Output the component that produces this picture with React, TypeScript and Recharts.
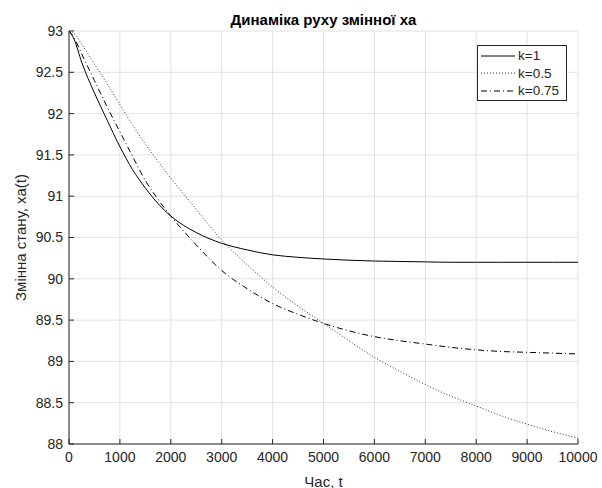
import { LineChart, Line, XAxis, YAxis, CartesianGrid } from 'recharts';

// time grid and state variable xa(t) for each k
const time = [0, 100, 250, 500, 750, 1000, 1250, 1500, 1750, 2000, 2500, 3000, 3500, 4000, 4500, 5000, 5500, 6000, 6500, 7000, 7500, 8000, 8500, 9000, 9500, 10000];
const xaK1 = [93, 92.9, 92.62, 92.25, 91.92, 91.6, 91.32, 91.1, 90.91, 90.76, 90.56, 90.43, 90.35, 90.29, 90.26, 90.24, 90.225, 90.215, 90.21, 90.205, 90.2, 90.2, 90.2, 90.2, 90.2, 90.2];
const xaK05 = [93, 92.97, 92.84, 92.6, 92.36, 92.11, 91.86, 91.63, 91.42, 91.22, 90.84, 90.47, 90.17, 89.9, 89.67, 89.46, 89.25, 89.05, 88.88, 88.72, 88.58, 88.46, 88.34, 88.24, 88.15, 88.07];
const xaK075 = [93, 92.92, 92.72, 92.4, 92.08, 91.78, 91.48, 91.19, 90.96, 90.76, 90.41, 90.1, 89.88, 89.7, 89.57, 89.46, 89.37, 89.3, 89.25, 89.21, 89.17, 89.14, 89.12, 89.11, 89.1, 89.09];

const xTicks = [0, 1000, 2000, 3000, 4000, 5000, 6000, 7000, 8000, 9000, 10000];
const yTicks = [88, 88.5, 89, 89.5, 90, 90.5, 91, 91.5, 92, 92.5, 93];

const series = [
  { key: 'k1', name: 'k=1', dash: undefined as string | undefined, color: '#000' },
  { key: 'k05', name: 'k=0.5', dash: '1 2', color: '#333' },
  { key: 'k075', name: 'k=0.75', dash: '6 3 1 3', color: '#000' },
];

const data = time.map((t, i) => ({ t, k1: xaK1[i], k05: xaK05[i], k075: xaK075[i] }));

const FONT = '"Liberation Sans", Arial, sans-serif';
const AXIS = '#262626';
const tickStyle = { fontSize: 14, fill: AXIS, fontFamily: FONT };

function YLabel(props: any) {
  const vb = props.viewBox;
  const cx = vb.x + 20;
  const cy = vb.y + vb.height / 2;
  return (
    <text
      x={cx}
      y={cy}
      transform={`rotate(-90 ${cx} ${cy})`}
      textAnchor="middle"
      dominantBaseline="central"
      fontSize={15}
      fontFamily={FONT}
      fill={AXIS}
    >
      Змінна стану, xa(t)
    </text>
  );
}

function XLabel(props: any) {
  const vb = props.viewBox;
  return (
    <text
      x={vb.x + vb.width / 2}
      y={vb.y + 37}
      textAnchor="middle"
      dominantBaseline="central"
      fontSize={15}
      fontFamily={FONT}
      fill={AXIS}
    >
      Час, t
    </text>
  );
}

function LegendBox() {
  return (
    <div
      style={{
        position: 'absolute',
        left: 477,
        top: 45,
        width: 90,
        height: 56,
        boxSizing: 'border-box',
        border: `1px solid ${AXIS}`,
        background: '#fff',
        fontFamily: FONT,
        fontSize: 13.5,
        color: AXIS,
        paddingTop: 1,
      }}
    >
      {series.map((s) => (
        <div key={s.key} style={{ display: 'flex', alignItems: 'center', height: 17.5 }}>
          <svg width={38} height={10} style={{ marginLeft: 2 }}>
            <line x1={1} y1={5} x2={35} y2={5} stroke={s.color} strokeWidth={1} strokeDasharray={s.dash} />
          </svg>
          <span>{s.name}</span>
        </div>
      ))}
    </div>
  );
}

export default function App() {
  return (
    <div style={{ position: 'absolute', left: 0, top: 0, width: 602, height: 488, background: '#fff' }}>
      <div
        style={{
          position: 'absolute',
          left: 69,
          width: 509,
          top: 11,
          textAlign: 'center',
          fontFamily: FONT,
          fontWeight: 'bold',
          fontSize: 15,
          color: '#000',
        }}
      >
        Динаміка руху змінної xa
      </div>
      <LineChart width={602} height={488} data={data} margin={{ top: 31, right: 24, bottom: 0, left: 0 }}>
        <CartesianGrid stroke="#e2e2e2" />
        <XAxis
          dataKey="t"
          type="number"
          domain={[0, 10000]}
          ticks={xTicks}
          interval={0}
          height={44}
          tickSize={-5}
          tickMargin={13}
          tick={tickStyle}
          stroke={AXIS}
          label={{ content: XLabel }}
        />
        <XAxis
          xAxisId="top"
          orientation="top"
          dataKey="t"
          type="number"
          domain={[0, 10000]}
          ticks={xTicks}
          interval={0}
          height={0}
          tickSize={-5}
          tick={false}
          stroke={AXIS}
        />
        <YAxis
          type="number"
          domain={[88, 93]}
          ticks={yTicks}
          interval={0}
          width={69}
          tickSize={-5}
          tickMargin={11}
          tick={tickStyle}
          stroke={AXIS}
          label={{ content: YLabel }}
        />
        <YAxis
          yAxisId="right"
          orientation="right"
          type="number"
          domain={[88, 93]}
          ticks={yTicks}
          interval={0}
          width={0}
          tickSize={-5}
          tick={false}
          stroke={AXIS}
        />
        {series.map((s) => (
          <Line
            key={s.key}
            type="monotone"
            dataKey={s.key}
            name={s.name}
            stroke={s.color}
            strokeWidth={1}
            strokeDasharray={s.dash}
            dot={false}
            isAnimationActive={false}
          />
        ))}
      </LineChart>
      <LegendBox />
    </div>
  );
}
